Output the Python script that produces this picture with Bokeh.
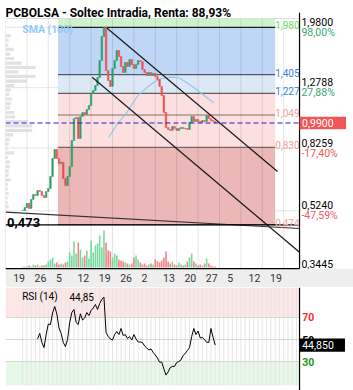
import math
from bokeh.plotting import figure
from bokeh.models import Range1d, LinearScale, LogScale
from bokeh.layouts import column
from bokeh.embed import file_html
from bokeh.resources import INLINE
from bokeh.core.properties import value

FONT = "Roboto"

# ---------------- data ----------------
# time index in quarter-day units (4 sessions per day, 20 per week)
bar_t = list(range(16, 197, 2))
close = [0.525, 0.537, 0.553, 0.533, 0.569, 0.590, 0.585, 0.607, 0.603, 0.585,
         0.577, 0.603, 0.616, 0.672, 0.766, 0.817, 0.766, 0.738, 0.745, 0.662,
         0.629, 0.672, 0.722, 0.872, 1.023, 1.030, 0.885, 1.038, 1.068, 1.053,
         1.092, 1.124, 1.226, 1.253, 1.299, 1.377, 1.557, 1.853, 1.980, 1.448,
         1.347, 1.290, 1.470, 1.557, 1.674, 1.603, 1.491, 1.428, 1.535, 1.491,
         1.569, 1.513, 1.470, 1.513, 1.557, 1.546, 1.459, 1.428, 1.397, 1.428,
         1.397, 1.417, 1.387, 1.357, 1.290, 1.208, 1.068, 0.958, 0.945, 0.938,
         0.965, 0.951, 0.938, 0.951, 0.958, 0.951, 0.951, 0.945, 0.994, 1.038,
         1.001, 1.016, 1.001, 0.994, 1.008, 1.001, 1.045, 1.023, 1.008, 1.001,
         0.990]
volume = [1, 1, 1, 2, 1, 3, 2, 3, 1, 2,
          2, 3, 6, 8, 10, 4, 5, 3, 4, 3,
          5, 6, 15, 12, 26, 14, 25, 18, 10, 12,
          17, 9, 27, 15, 22, 24, 32, 20, 37, 25,
          17, 16, 10, 14, 12, 8, 7, 6, 5, 4,
          3, 4, 10, 12, 8, 5, 3, 4, 2, 3,
          4, 3, 8, 6, 5, 7, 10, 16, 6, 4,
          6, 3, 2, 5, 3, 2, 3, 6, 10, 14,
          6, 4, 2, 3, 2, 4, 9, 4, 2, 1,
          1]
sma_t = [96.5, 104, 113.7, 123, 132.4, 139, 144.9, 150, 155.8, 160, 163.6, 170, 175.7, 185, 194.7]
sma_v = [0.893, 0.978, 1.071, 1.200, 1.283, 1.333, 1.364, 1.374, 1.380, 1.377, 1.364, 1.323, 1.283, 1.213, 1.146]

rsi_t = list(range(30, 197, 2))
rsi = [50.6, 55.5, 47.3, 42.7, 54.5, 64.1, 63.6, 74.1, 80.0, 73.2,
       60.5, 55.5, 47.3, 43.6, 50.0, 65.5, 74.5, 77.3, 65.5, 63.6,
       73.4, 67.7, 69.5, 74.5, 71.8, 76.4, 78.6, 81.8, 77.3, 82.7,
       86.4, 88.5, 56.4, 52.7, 50.5, 49.5, 54.5, 57.3, 54.5, 60.0,
       53.6, 54.5, 50.9, 52.7, 49.5, 54.5, 50.5, 47.7, 47.7, 47.3,
       44.1, 42.3, 40.5, 41.4, 38.2, 35.9, 33.2, 29.4, 29.5, 23.2,
       17.7, 20.5, 24.5, 25.5, 25.5, 29.1, 30.0, 31.4, 35.5, 37.3,
       40.0, 42.7, 52.7, 60.0, 54.5, 57.7, 51.4, 51.8, 50.0, 47.5,
       47.3, 60.0, 51.8, 44.85]
rsi_last = 44.85
rsi_levels = [70, 50, 30]

week_t = list(range(0, 241, 20))
week_labels = ["19", "26", "5", "12", "19", "26", "2", "13", "20", "27", "5", "12", "19"]

fib_levels = [1.980, 1.405, 1.227, 1.049, 0.830, 0.474]
fib_labels = ["1,980", "1,405", "1,227", "1,049", "0,830", "0,474"]
fib_start, fib_end = 49, 252

axis_ticks = [1.98, 1.2788, 0.8259, 0.524]
axis_tick_labels = ["1,9800", "1,2788", "0,8259", "0,5240"]
axis_pct_labels = ["98,00%", "27,88%", "-17,40%", "-47,59%"]
y_min = 0.3445
last_price = 0.99
low_price = 0.473

channel_upper_t = [95.0, 254.2]
channel_upper_p = [1.968, 0.697]
channel_lower_t = [81.0, 274.8]
channel_lower_p = [1.380, 0.388]
support_t = [0.0, 274.8]
support_p = [0.519, 0.461]

vp_price = [1.860, 1.800, 1.742, 1.687, 1.632, 1.580, 1.529, 1.480, 1.433, 1.387,
            1.342, 1.299, 1.257, 1.217, 1.178, 1.140, 1.104, 1.068, 1.034, 1.001,
            0.969, 0.938, 0.908, 0.878, 0.850, 0.823, 0.797, 0.771, 0.746, 0.722,
            0.699, 0.677, 0.655, 0.634, 0.614, 0.594, 0.575, 0.556, 0.539]
vp_volume = [5, 3, 2.5, 7.5, 4.5, 8, 15, 28, 12, 28,
             20, 8, 5, 3.5, 6, 5, 4, 8, 9, 21,
             25, 25, 7, 4, 3, 2, 8, 2, 4, 4,
             3, 3, 5, 2, 2, 3, 2, 2, 3]

# ---------------- layout constants ----------------
X_END = 348 / 1.07
X_AX = 274.8
Y_TOP, Y_BOT = 2.4053, 0.30058
TOP_PRICE = 2.111
UP, DOWN = "#2e9e6b", "#ef4f4f"

p = figure(width=353, height=287, x_range=Range1d(0, X_END), y_range=Range1d(Y_BOT, Y_TOP),
           y_axis_type="log", x_axis_location=None, y_axis_location=None,
           toolbar_location=None, output_backend="svg",
           min_border_left=5, min_border_right=0, min_border_top=0, min_border_bottom=0)
p.y_scale = LogScale()
p.outline_line_color = None
p.grid.visible = False
p.extra_y_ranges = {"vol": Range1d(-20, 267)}
p.extra_y_scales = {"vol": LinearScale()}

def txt(fig, x, y, t, size="10px", color="black", align="left", base="middle", yoff=0, bold=False):
    fig.text(x=x, y=y, text=t, text_font=value(FONT), text_font_size=size, text_color=color,
             text_align=align, text_baseline=base, y_offset=yoff,
             text_font_style="bold" if bold else "normal")

# y grid lines
for v in axis_ticks:
    p.line([0, X_AX], [v, v], line_color="#e6e6e6", line_width=1)

# fibonacci bands
p.quad(left=fib_start, right=fib_end,
       bottom=[fib_levels[0], fib_levels[1], fib_levels[2], fib_levels[4], fib_levels[5]],
       top=[TOP_PRICE, fib_levels[0], fib_levels[1], fib_levels[2], fib_levels[4]],
       fill_color=["#cdf3cd", "#bfd6f6", "#dde8f6", "#fcdfdf", "#ebb7b7"], line_color=None)

# week grid
grid_t = list(range(20, 261, 20))
p.segment(x0=grid_t, y0=[y_min] * len(grid_t), x1=grid_t, y1=[TOP_PRICE] * len(grid_t),
          line_color="black", line_alpha=0.1, line_width=1)

# fib lines
p.segment(x0=[fib_start] * 6, y0=fib_levels, x1=[fib_end] * 6, y1=fib_levels,
          line_color="black", line_alpha=[0.85, 0.6, 0.6, 0.5, 0.5, 0.5], line_width=1.2)

# volume profile
p.quad(left=0, right=vp_volume, bottom=[v / 1.0117 for v in vp_price], top=[v * 1.0117 for v in vp_price],
       fill_color="#d9d9d9", fill_alpha=0.8, line_color=None)

# candles & volume
opens = [close[0]] + close[:-1]
cols = [UP if c >= o else DOWN for o, c in zip(opens, close)]
vcols = ["#5fd38d" if c >= o else "#f27070" for o, c in zip(opens, close)]
p.vbar(x=bar_t, bottom=0, top=volume, width=1.5, fill_color=vcols, line_color=None,
       fill_alpha=0.85, y_range_name="vol")
p.line(sma_t, sma_v, line_color="#8cc6f2", line_width=1.1)
p.vbar(x=bar_t, bottom=[min(o, c) for o, c in zip(opens, close)],
       top=[max(o, c) for o, c in zip(opens, close)], width=1.4,
       fill_color=cols, line_color=cols, line_width=0.6)

# trend lines
p.line(channel_upper_t, channel_upper_p, line_color="#1a1a1a", line_width=1.2)
p.line(channel_lower_t, channel_lower_p, line_color="#1a1a1a", line_width=1.2)
p.line(support_t, support_p, line_color="#333333", line_width=1.1)
p.line([0, X_AX], [low_price, low_price], line_color="black", line_width=1.3)
p.line([0, X_AX], [last_price, last_price], line_color="#1f1fd6", line_width=1.2, line_dash="5 3")

# fib labels
txt(p, [fib_end] * 6, fib_levels, fib_labels, size="10px",
    color=["#6cdc6c", "#3b82e6", "#3b82e6", "#f4a0a0", "#f4a0a0", "#f4a0a0"],
    base="alphabetic", yoff=-2)

# covers (frame clipping)
p.quad(left=0, right=X_AX, bottom=TOP_PRICE, top=Y_TOP, fill_color="white", line_color=None)
p.quad(left=X_AX, right=X_END, bottom=y_min, top=Y_TOP, fill_color="white", line_color=None)
p.quad(left=0, right=X_AX, bottom=y_min, top=TOP_PRICE, fill_color=None, line_color="#dddddd", line_width=1)

# texts in the chart
txt(p, [0], [Y_TOP], ["PCBOLSA - Soltec Intradia, Renta: 88,93%"], size="12px", yoff=12, bold=True)
txt(p, [15.6], [Y_TOP], ["SMA (100)"], size="10.5px", color="#93c9f4", yoff=28.5, bold=True)
txt(p, [1.5], [low_price], ["0,473"], size="13px", base="alphabetic", yoff=-2, bold=True)

# right axis
p.segment(x0=[X_AX], y0=[y_min], x1=[X_AX], y1=[2.2], line_color="black", line_width=1.2)
txt(p, [X_AX + 1.8] * 4, axis_ticks, axis_tick_labels, size="10.5px", yoff=-5.5)
txt(p, [X_AX + 1.8] * 4, axis_ticks, axis_pct_labels, size="10.5px",
    color=["#35a873", "#35a873", "#f05a5a", "#f05a5a"], yoff=5)
txt(p, [X_AX + 1.8], [y_min], ["0,3445"], size="10.5px", yoff=-4.5)
p.rect(x=[X_AX + 21.7], y=[last_price], width=46.5, height=12.6, width_units="screen",
       height_units="screen", fill_color="#f25555", line_color=None)
txt(p, [X_AX + 2.4], [last_price], ["0,9900"], size="10.5px", color="white")

# date band
p.quad(left=0, right=X_END, bottom=Y_BOT, top=y_min, fill_color="#eeeeee", line_color=None)
p.line([0, X_AX], [y_min, y_min], line_color="black", line_width=1.3)
txt(p, [w + 7.2 for w in week_t], [Y_BOT] * len(week_t), week_labels, size="10.5px",
    color="#333333", yoff=-9.5)

# ---------------- RSI panel ----------------
R_TOP, R_BOT = 97.27, 3.64
r = figure(width=353, height=103, x_range=p.x_range, y_range=Range1d(R_BOT, R_TOP),
           x_axis_location=None, y_axis_location=None, toolbar_location=None,
           output_backend="svg", min_border_left=5, min_border_right=0,
           min_border_top=0, min_border_bottom=0)
r.outline_line_color = None
r.grid.visible = False

r.quad(left=0, right=X_AX, bottom=[70, 8.18], top=[R_TOP, 30],
       fill_color=["#fde6e6", "#e6f9e6"], line_color=None)
dense = list(range(16, 273, 4))
r.segment(x0=dense, y0=[8.18] * len(dense), x1=dense, y1=[R_TOP] * len(dense),
          line_color="#e6e6e6", line_width=1)
r.segment(x0=[0] * 3, y0=rsi_levels, x1=[X_AX] * 3, y1=rsi_levels, line_color="#d6d6d6", line_width=1)
r.line(rsi_t, rsi, line_color="black", line_width=1)
txt(r, [15.6], [R_TOP], ["RSI (14)"], size="10px", yoff=9)
txt(r, [59.8], [R_TOP], ["44,85"], size="10px", yoff=9)
r.segment(x0=[X_AX], y0=[R_BOT], x1=[X_AX], y1=[R_TOP], line_color="black", line_width=1.2)
txt(r, [X_AX + 2.5] * 3, rsi_levels, ["70", "50", "30"], size="10.5px",
    color=["#ff2a2a", "black", "#1e961e"], bold=True)
r.rect(x=[X_AX + 21.2], y=[rsi_last], width=45.5, height=13.4, width_units="screen",
       height_units="screen", fill_color="black", line_color=None)
txt(r, [X_AX + 2.5], [rsi_last], ["44,850"], size="10.5px", color="white")

layout = column(p, r)
open("out.html", "w").write(file_html(layout, INLINE))
